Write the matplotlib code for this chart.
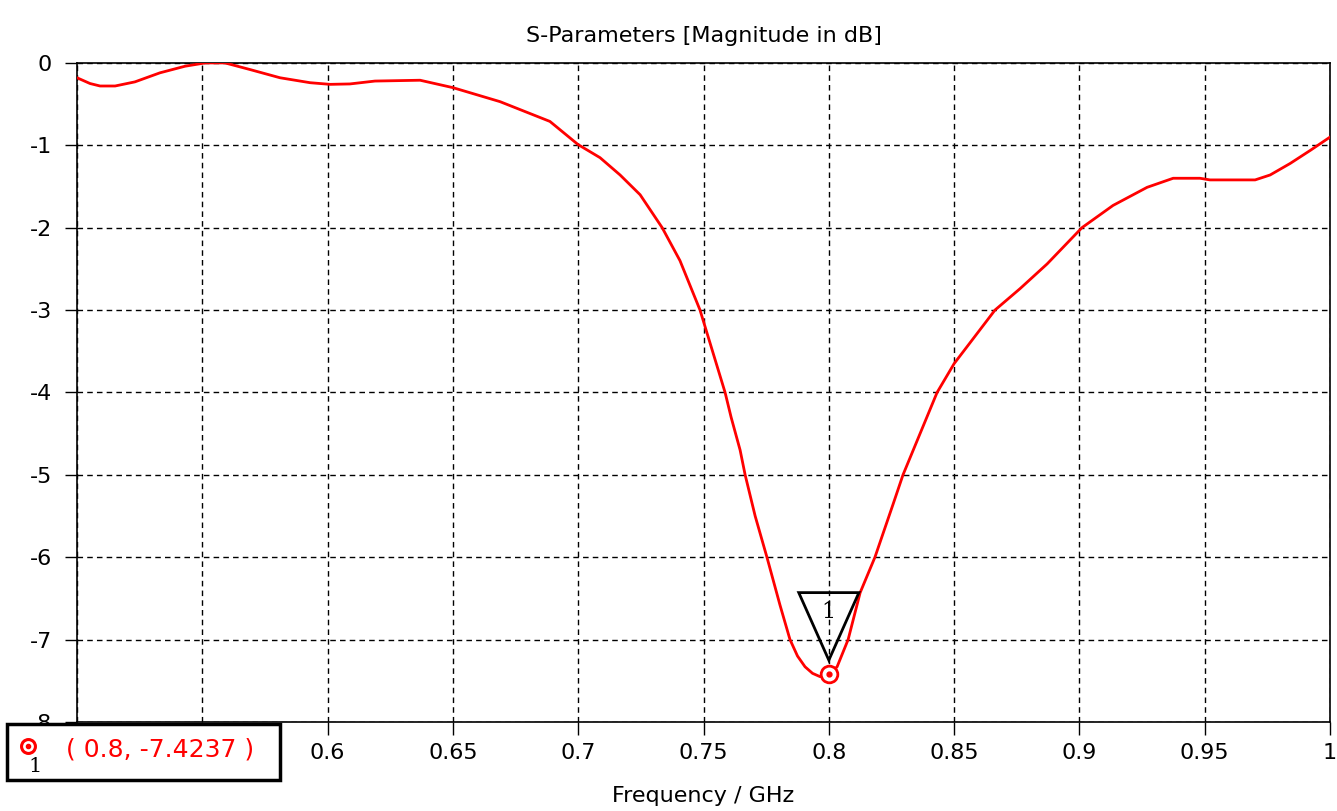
import matplotlib.pyplot as plt
from matplotlib.patches import Rectangle, Polygon

# S11 curve (GHz, dB)
freq = [0.5, 0.5052, 0.5092, 0.5152, 0.5231, 0.5331, 0.5431, 0.5511, 0.5591, 0.569,
        0.581, 0.593, 0.601, 0.6089, 0.6189, 0.6369, 0.65, 0.6688, 0.6887, 0.6999,
        0.7087, 0.7167, 0.7247, 0.7335, 0.7406, 0.7486, 0.7526, 0.7586, 0.761,
        0.7646, 0.7666, 0.7706, 0.7753, 0.7805, 0.7845, 0.7875, 0.7905, 0.7935,
        0.7965, 0.8, 0.8033, 0.8077, 0.8125, 0.8184, 0.8256, 0.8296, 0.8364,
        0.8432, 0.85, 0.8663, 0.8763, 0.8871, 0.901, 0.9134, 0.927, 0.9374,
        0.9481, 0.9521, 0.9701, 0.9761, 0.9841, 0.9922, 1.0]
s11 = [-0.18, -0.25, -0.28, -0.28, -0.23, -0.12, -0.04, 0.0, 0.0, -0.08,
       -0.18, -0.24, -0.26, -0.255, -0.22, -0.21, -0.30, -0.47, -0.71, -0.99,
       -1.15, -1.36, -1.6, -2.0, -2.4, -3.0, -3.4, -4.0, -4.3,
       -4.7, -5.0, -5.5, -6.0, -6.58, -7.0, -7.2, -7.33, -7.41,
       -7.45, -7.4237, -7.33, -7.0, -6.43, -6.0, -5.36, -5.0, -4.5,
       -4.0, -3.65, -3.0, -2.74, -2.44, -2.0, -1.73, -1.51, -1.4,
       -1.4, -1.42, -1.42, -1.36, -1.22, -1.06, -0.9]

marker_f = 0.8
marker_v = -7.4237
marker_label = "1"

xticks = [0.5, 0.55, 0.6, 0.65, 0.7, 0.75, 0.8, 0.85, 0.9, 0.95, 1.0]
xticklabels = ["0.5", "0.55", "0.6", "0.65", "0.7", "0.75", "0.8", "0.85", "0.9", "0.95", "1"]
yticks = [0, -1, -2, -3, -4, -5, -6, -7, -8]

plt.rcParams['font.family'] = ['DejaVu Sans']

fig = plt.figure(figsize=(13.37, 8.11), dpi=100)
ax = fig.add_axes([0.0576, 0.1098, 0.9372, 0.8126])

ax.plot(freq, s11, color='#ff0000', lw=2.0, zorder=3, solid_joinstyle='round')

ax.set_xlim(0.5, 1.0)
ax.set_ylim(-8, 0)
ax.set_xticks(xticks)
ax.set_xticklabels(xticklabels)
ax.set_yticks(yticks)
ax.set_yticklabels([str(t) for t in yticks])
ax.grid(True, color='black', linestyle=(0, (4, 3)), lw=1.0)
ax.tick_params(direction='out', length=9, width=1, labelsize=16, colors='black')
ax.tick_params(axis='x', pad=6)
ax.tick_params(axis='y', pad=9)
for sp in ax.spines.values():
    sp.set_color('black')
    sp.set_linewidth(1.2)

ax.set_title('S-Parameters [Magnitude in dB]', fontsize=16, pad=15)
ax.set_xlabel('Frequency / GHz', fontsize=16, labelpad=17)

# marker point
ax.plot([marker_f], [marker_v], 'o', ms=12, mfc='white', mec='#ff0000', mew=2, zorder=5)
ax.plot([marker_f], [marker_v], 'o', ms=3.5, color='#ff0000', zorder=6)

# triangle marker flag
tri = Polygon([(marker_f - 0.012, -6.43), (marker_f + 0.012, -6.43), (marker_f, -7.25)],
              closed=True, fill=False, edgecolor='black', lw=2, zorder=6)
ax.add_patch(tri)
ax.text(marker_f, -6.66, marker_label, ha='center', va='center', fontsize=16,
        family='DejaVu Serif', color='black', zorder=7)

# readout box at bottom left (figure pixel coords)
W, H = 1337, 811
box = Rectangle((7 / W, 1 - 780 / H), 273 / W, 56 / H, transform=fig.transFigure,
                facecolor='white', edgecolor='black', lw=2.5, zorder=10)
fig.add_artist(box)
fig.add_artist(plt.Line2D([28 / W], [1 - 746 / H], marker='o', ms=10, mfc='white',
                          mec='#ff0000', mew=2.2, transform=fig.transFigure, zorder=11))
fig.add_artist(plt.Line2D([28 / W], [1 - 746 / H], marker='o', ms=3, color='#ff0000',
                          transform=fig.transFigure, zorder=12))
fig.text(35 / W, 1 - 767 / H, marker_label, ha='center', va='center', fontsize=15,
         family='DejaVu Serif', zorder=12)
fig.text(66 / W, 1 - 750 / H, "( %g, %.4f )" % (marker_f, marker_v), ha='left', va='center',
         fontsize=18, color='#ff0000', zorder=12)

fig.savefig('out.png', dpi=100)
